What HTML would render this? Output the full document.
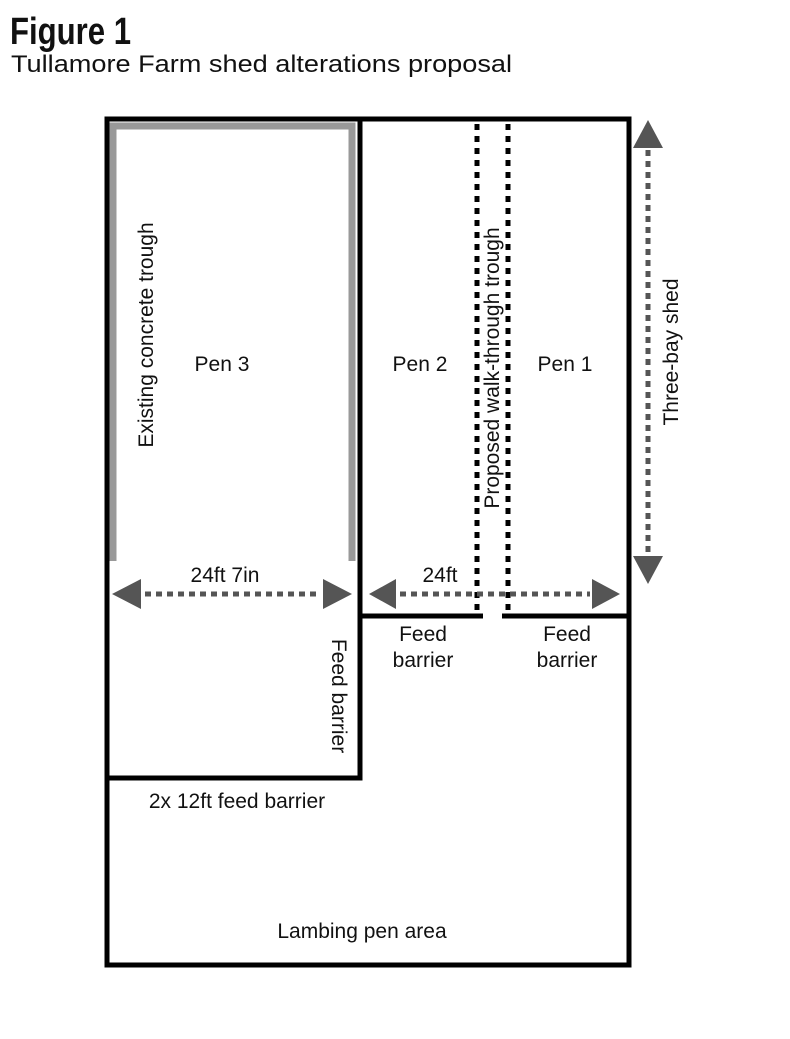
<!DOCTYPE html>
<html><head><meta charset="utf-8"><style>
body{margin:0;background:#fff;}
svg text{font-family:"Liberation Sans",sans-serif;fill:#111;}
</style></head><body>
<svg width="790" height="1034" viewBox="0 0 790 1034" xmlns="http://www.w3.org/2000/svg">
<text x="10" y="44" font-size="38" font-weight="bold" textLength="121" lengthAdjust="spacingAndGlyphs">Figure 1</text>
<text x="11" y="72" font-size="24" textLength="501" lengthAdjust="spacingAndGlyphs">Tullamore Farm shed alterations proposal</text>

<path d="M113,561 V126 H352 V561" fill="none" stroke="#999" stroke-width="7"/>
<rect x="107" y="119" width="522" height="846" fill="none" stroke="#000" stroke-width="5"/>
<path d="M360,119 V778 H107" fill="none" stroke="#000" stroke-width="5"/>
<path d="M360,616 H483 M502,616 H629" fill="none" stroke="#000" stroke-width="5"/>
<path d="M477,124 V614 M508,124 V614" fill="none" stroke="#000" stroke-width="5" stroke-dasharray="6,6"/>

<g fill="#555" stroke="none">
<polygon points="112,594 141,579 141,609"/>
<polygon points="352,594 323,579 323,609"/>
<polygon points="369,594 396,579 396,609"/>
<polygon points="620,594 592,579 592,609"/>
<polygon points="648,120 633,148 663,148"/>
<polygon points="648,584 633,556 663,556"/>
</g>
<path d="M145,594 H320 M400,594 H590" stroke="#555" stroke-width="5" stroke-dasharray="6,5"/>
<path d="M648,150 V554" stroke="#555" stroke-width="5" stroke-dasharray="6,5"/>

<g font-size="21" text-anchor="middle">
<text x="222" y="371">Pen 3</text>
<text x="420" y="371">Pen 2</text>
<text x="565" y="371">Pen 1</text>
<text x="225" y="582">24ft 7in</text>
<text x="440" y="582">24ft</text>
<text x="423" y="641">Feed</text>
<text x="423" y="667">barrier</text>
<text x="567" y="641">Feed</text>
<text x="567" y="667">barrier</text>
<text x="237" y="808">2x 12ft feed barrier</text>
<text x="362" y="938">Lambing pen area</text>
<text transform="translate(153,335) rotate(-90)">Existing concrete trough</text>
<text transform="translate(499,368) rotate(-90)">Proposed walk-through trough</text>
<text transform="translate(678,352) rotate(-90)">Three-bay shed</text>
<text transform="translate(332,696) rotate(90)">Feed barrier</text>
</g>
</svg>
</body></html>
